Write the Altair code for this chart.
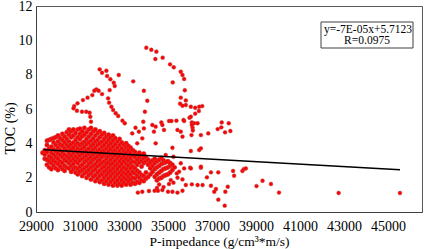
import altair as alt
import pandas as pd

# ---- main dense cluster, read column by column (x in g/cm3*m/s, TOC in %) ----
cluster_cols = [29300, 29400, 29500, 29600, 29700, 29800, 29900, 30000, 30100, 30200,
                30300, 30400, 30500, 30600, 30700, 30800, 30900, 31000, 31100, 31200,
                31300, 31400, 31500, 31600, 31700, 31800, 31900, 32000, 32100, 32200,
                32300, 32400, 32500, 32600, 32700, 32800, 32900, 33000, 33100, 33200,
                33300, 33400, 33500, 33600, 33700, 33800, 33900, 34000, 34100, 34200,
                34300, 34400, 34500, 34600, 34700, 34800, 34900, 35000, 35100, 35200,
                35300]
cluster_ys = [
    [3.45],
    [3.1, 3.35, 3.6],
    [2.75, 3.05, 3.5, 3.9, 4.15],
    [2.6, 2.95, 3.25, 3.7, 4.2],
    [2.5, 2.85, 3.15, 3.45, 3.8, 4.25],
    [2.7, 3.0, 3.35, 3.65, 4.05, 4.3],
    [2.55, 2.9, 3.2, 3.55, 3.9, 4.35],
    [2.45, 2.8, 3.1, 3.4, 3.75, 4.1, 4.45],
    [2.65, 2.95, 3.3, 3.6, 3.95, 4.3],
    [2.5, 2.85, 3.2, 3.5, 3.85, 4.2, 4.55],
    [2.4, 2.7, 3.05, 3.35, 3.7, 4.05, 4.4],
    [2.6, 2.95, 3.25, 3.6, 3.9, 4.25, 4.65],
    [2.55, 2.85, 3.15, 3.45, 3.8, 4.1, 4.5, 4.8],
    [2.35, 2.7, 3.0, 3.3, 3.65, 3.95, 4.35, 4.7],
    [2.5, 2.8, 3.1, 3.45, 3.75, 4.05, 4.45, 4.8],
    [2.3, 2.6, 2.95, 3.25, 3.55, 3.9, 4.2, 4.6],
    [2.2, 2.5, 2.85, 3.15, 3.45, 3.7, 4.0, 4.35, 4.8],
    [2.35, 2.65, 3.0, 3.3, 3.6, 3.9, 4.25, 4.55, 4.85],
    [2.1, 2.45, 2.75, 3.1, 3.4, 3.7, 4.0, 4.4, 4.7],
    [2.25, 2.55, 2.9, 3.2, 3.5, 3.8, 4.1, 4.5, 4.9],
    [2.0, 2.35, 2.65, 3.0, 3.3, 3.6, 3.95, 4.25, 4.65],
    [2.15, 2.45, 2.8, 3.1, 3.4, 3.7, 4.05, 4.4, 4.8],
    [1.9, 2.25, 2.6, 2.9, 3.2, 3.5, 3.85, 4.15, 4.55, 4.9],
    [2.05, 2.4, 2.7, 3.05, 3.35, 3.65, 3.95, 4.3, 4.7],
    [1.8, 2.15, 2.5, 2.8, 3.15, 3.45, 3.75, 4.1, 4.45, 4.8],
    [1.95, 2.3, 2.65, 2.95, 3.25, 3.55, 3.9, 4.2, 4.6],
    [1.75, 2.1, 2.4, 2.75, 3.05, 3.35, 3.65, 4.0, 4.35, 4.7],
    [1.85, 2.2, 2.55, 2.85, 3.2, 3.5, 3.8, 4.1, 4.5],
    [1.65, 2.0, 2.35, 2.65, 2.95, 3.3, 3.6, 3.9, 4.25, 4.6],
    [1.8, 2.15, 2.45, 2.8, 3.1, 3.4, 3.7, 4.05, 4.4],
    [1.6, 1.95, 2.3, 2.6, 2.9, 3.25, 3.55, 3.85, 4.2, 4.5],
    [1.75, 2.1, 2.4, 2.75, 3.05, 3.35, 3.65, 4.0, 4.35],
    [1.55, 1.9, 2.25, 2.55, 2.85, 3.2, 3.5, 3.8, 4.15, 4.45],
    [1.7, 2.05, 2.35, 2.7, 3.0, 3.3, 3.6, 3.95, 4.3],
    [1.55, 1.85, 2.2, 2.5, 2.8, 3.15, 3.45, 3.75, 4.1],
    [1.65, 2.0, 2.3, 2.65, 2.95, 3.25, 3.55, 3.9, 4.25],
    [1.55, 1.85, 2.15, 2.45, 2.8, 3.1, 3.4, 3.7, 4.05],
    [1.7, 2.0, 2.3, 2.6, 2.95, 3.25, 3.55, 3.9],
    [1.6, 1.9, 2.2, 2.5, 2.8, 3.1, 3.45, 3.75, 4.0],
    [1.75, 2.05, 2.35, 2.7, 3.0, 3.3, 3.6, 3.85],
    [1.6, 1.9, 2.2, 2.55, 2.85, 3.15, 3.45, 3.75],
    [1.7, 2.0, 2.35, 2.65, 2.95, 3.3, 3.6],
    [1.65, 1.95, 2.25, 2.55, 2.9, 3.2, 3.5],
    [1.75, 2.1, 2.4, 2.75, 3.05, 3.35],
    [1.7, 2.0, 2.3, 2.9, 3.2, 3.45],
    [1.85, 2.15, 2.65, 3.0, 3.3],
    [1.8, 2.1, 2.85, 3.15, 3.4],
    [1.95, 2.3, 2.95, 3.2],
    [2.05, 2.75, 3.05],
    [2.2, 2.55, 2.9],
    [2.35, 2.7, 3.0],
    [2.05, 2.5, 2.85, 3.1],
    [1.85, 2.2, 2.6, 2.95],
    [1.95, 2.3, 2.7, 3.05],
    [2.0, 2.4, 2.8, 3.15],
    [2.1, 2.5, 2.85, 3.0],
    [2.15, 2.55, 2.9],
    [2.2, 2.6, 2.95],
    [2.3, 2.7, 2.85],
    [2.45, 2.75],
    [2.6],
]

# ---- scattered points outside the dense cluster ----
scatter_x = [
    # left arc
    31894, 32003, 32200, 32232, 32762, 32383, 32535, 32580, 32351, 32278, 32324, 32429,
    32506, 32625, 32735, 32931, 33036, 33420,
    # left hook
    31743, 31651, 31848, 32003, 31560, 31345, 31135, 30888, 30737, 30705, 30860, 31089,
    31285, 31437, 31469, 31500,
    # vertical strand
    33905, 34060, 33950, 33878,
    # big right arc
    34015, 34243, 34472, 34426, 34760, 35095, 35263, 35583, 35660, 35735, 35217, 35766,
    35583, 35812, 35552, 35660, 35812, 36040, 36237, 36420, 36557, 36405, 36237, 35980,
    35735,
    # band near 5.2
    34700, 35050, 35157, 35385, 36085, 37443, 37763, 35706, 36040, 36191,
    # band 4.3-5.1 and around 3.5
    33375, 33525, 33905, 34362, 34290, 34820, 35660, 36117, 34440, 34746, 35432, 35583,
    36085, 36130, 36070, 36497, 36832, 36346, 37260, 37425, 37594, 37837, 33677, 33603,
    33832, 34440, 35203, 34897, 35249, 36040, 36420, 36497,
    # lower right
    33631, 33832, 34135, 34394, 34546, 34746, 35002, 35203, 35432, 35660, 35812, 36086,
    36346, 36575, 36954, 37183, 37105, 37288, 37608, 37718, 36008, 36497, 36954, 37288,
    36771, 35400, 35432, 35126, 35249, 35048, 35660, 37960, 38006, 38384, 38449, 38540,
    37580, 39025, 39300, 39683, 40048, 42760, 45548, 35583, 35735, 35505, 36040, 36497,
    34600, 34800, 34500,
]
scatter_y = [
    8.31, 8.11, 8.23, 7.92, 7.98, 7.73, 7.53, 7.34, 7.10, 6.62, 6.37, 6.13,
    5.94, 5.75, 5.59, 5.32, 5.17, 7.61,
    7.14, 7.06, 7.06, 6.87, 6.81, 6.66, 6.52, 6.33, 6.17, 6.04, 5.90, 5.84,
    5.84, 5.78, 5.55, 5.26,
    7.06, 6.48, 5.84, 5.26,
    9.57, 9.45, 9.34, 8.91, 8.99, 8.60, 8.43, 8.17, 7.98, 7.75, 7.55, 7.09,
    6.66, 6.50, 6.31, 6.19, 6.23, 6.13, 6.07, 6.13, 6.17, 5.88, 5.73, 5.49,
    5.30,
    5.22, 5.30, 5.30, 5.32, 5.22, 5.22, 5.17, 5.36, 5.55, 5.17,
    4.58, 4.91, 4.87, 4.68, 5.07, 4.78, 4.39, 4.91, 4.97, 5.07, 4.78, 4.68,
    5.07, 4.75, 4.48, 4.48, 4.58, 5.17, 4.83, 4.93, 4.64, 4.72, 4.68, 4.00,
    4.29, 4.00, 3.74, 3.32, 3.22, 3.55, 3.61, 3.71,
    1.13, 1.18, 1.22, 1.24, 1.24, 1.28, 1.18, 1.18, 1.13, 1.24, 1.57, 1.61,
    1.57, 1.57, 1.53, 1.34, 1.18, 0.72, 1.18, 1.47, 2.58, 2.58, 2.31, 2.31,
    2.02, 2.25, 2.00, 1.86, 1.71, 1.63, 1.90, 2.39, 2.11, 2.39, 2.50, 2.54,
    0.37, 1.51, 1.82, 1.63, 1.13, 1.11, 1.11, 2.84, 2.54, 2.35, 2.54, 2.64,
    1.60, 1.45, 1.40,
]

# ---- linear trend line (endpoints) ----
trend_x = [29350, 45550]
trend_y = [3.62, 2.46]

legend_lines = ["y=-7E-05x+5.7123", "R=0.0975"]

x_ticks = [29000, 31000, 33000, 35000, 37000, 39000, 41000, 43000, 45000]
y_ticks = [0, 2, 4, 6, 8, 10, 12]

cx_list, cy_list = [], []
for cx, ys in zip(cluster_cols, cluster_ys):
    for yv in ys:
        cx_list.append(cx)
        cy_list.append(yv)
dense = pd.DataFrame({"x": cx_list, "y": cy_list})
loose = pd.DataFrame({"x": scatter_x, "y": scatter_y})
trend = pd.DataFrame({"x": trend_x, "y": trend_y})

FONT = "Liberation Serif"


def xenc():
    return alt.X("x:Q", scale=alt.Scale(domain=[29000, 46550], nice=False, zero=False),
                 axis=alt.Axis(values=x_ticks, format="d",
                               title="P-impedance (g/cm³*m/s)",
                               grid=False, ticks=False, labelPadding=7,
                               labelFlush=False, labelOverlap=False,
                               labelFont=FONT, labelFontSize=14, labelColor="black",
                               titleFont=FONT, titleFontSize=13.5,
                               titleFontWeight="normal", titleColor="black",
                               titleX=183, titleY=29, titleBaseline="middle",
                               titleAlign="center"))


def yenc():
    return alt.Y("y:Q", scale=alt.Scale(domain=[0, 12], nice=False, zero=False),
                 axis=alt.Axis(values=y_ticks, format="d", title="TOC (%)",
                               grid=False, ticks=False, labelPadding=4,
                               labelFlush=False, labelOverlap=False,
                               labelFont=FONT, labelFontSize=14, labelColor="black",
                               titleFont=FONT, titleFontSize=14,
                               titleFontWeight="normal", titleColor="black",
                               titleX=-26, titleY=122, titleBaseline="middle",
                               titleAlign="center"))


dense_pts = alt.Chart(dense).mark_point(
    filled=True, shape="circle", size=20, fill="#ff0000", stroke="#b84a4a",
    strokeWidth=0.5, opacity=1
).encode(x=xenc(), y=yenc())

loose_pts = alt.Chart(loose).mark_point(
    filled=True, shape="circle", size=15, fill="#ff0000", stroke="#b84a4a",
    strokeWidth=0.5, opacity=1
).encode(x=xenc(), y=yenc())

line = alt.Chart(trend).mark_line(color="black", strokeWidth=1.5).encode(
    x=xenc(), y=yenc()
)

box = alt.Chart(pd.DataFrame({"k": [0]})).mark_rect(
    fill="white", stroke="#404040", strokeWidth=1
).encode(x=alt.value(285), x2=alt.value(377), y=alt.value(16), y2=alt.value(42))

t1 = alt.Chart(pd.DataFrame({"t": [legend_lines[0]]})).mark_text(
    font=FONT, fontSize=11.5, color="black", align="center", baseline="middle"
).encode(text="t:N", x=alt.value(332), y=alt.value(23.5))

t2 = alt.Chart(pd.DataFrame({"t": [legend_lines[1]]})).mark_text(
    font=FONT, fontSize=11.5, color="black", align="center", baseline="middle"
).encode(text="t:N", x=alt.value(331), y=alt.value(35))

chart = alt.layer(dense_pts, loose_pts, line, box, t1, t2).properties(
    width=386, height=206,
    autosize=alt.AutoSizeParams(type="none"),
    padding={"left": 36, "top": 6, "right": 3, "bottom": 37},
    background="white",
).configure_view(
    stroke="#595959", strokeWidth=1
).configure_axis(
    domainColor="#404040", domainWidth=1,
)

chart.save("out.html", embed_options={"renderer": "svg", "actions": False})
